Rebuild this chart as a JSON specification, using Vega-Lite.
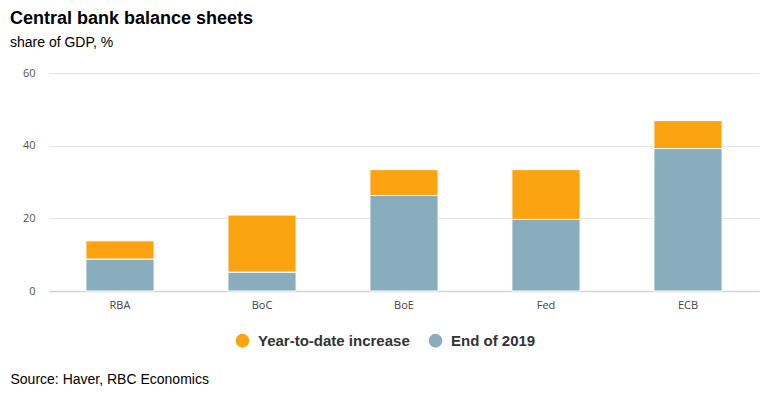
{
  "$schema": "https://vega.github.io/schema/vega-lite/v6.json",
  "autosize": {"type": "none"},
  "width": 710,
  "height": 218,
  "padding": {"left": 49, "top": 73, "right": 11, "bottom": 109},
  "background": "white",
  "title": {
    "text": "Central bank balance sheets",
    "subtitle": "share of GDP, %",
    "anchor": "start",
    "frame": "group",
    "dx": -39,
    "offset": 17,
    "font": "Liberation Sans",
    "fontSize": 18,
    "fontWeight": "bold",
    "color": "#000000",
    "subtitleFont": "Liberation Sans",
    "subtitleFontSize": 14,
    "subtitleColor": "#000000",
    "subtitlePadding": 8
  },
  "data": {
    "values": [
      {"bank": "RBA", "series": "End of 2019", "value": 8.8},
      {"bank": "RBA", "series": "Year-to-date increase", "value": 5.0},
      {"bank": "BoC", "series": "End of 2019", "value": 5.2},
      {"bank": "BoC", "series": "Year-to-date increase", "value": 15.7},
      {"bank": "BoE", "series": "End of 2019", "value": 26.3},
      {"bank": "BoE", "series": "Year-to-date increase", "value": 7.1},
      {"bank": "Fed", "series": "End of 2019", "value": 19.7},
      {"bank": "Fed", "series": "Year-to-date increase", "value": 13.7},
      {"bank": "ECB", "series": "End of 2019", "value": 39.2},
      {"bank": "ECB", "series": "Year-to-date increase", "value": 7.7}
    ]
  },
  "mark": {"type": "bar", "stroke": "white", "strokeWidth": 1},
  "encoding": {
    "x": {
      "field": "bank",
      "type": "nominal",
      "sort": ["RBA", "BoC", "BoE", "Fed", "ECB"],
      "scale": {"paddingInner": 0.52, "paddingOuter": 0.26},
      "axis": {
        "title": "Source: Haver, RBC Economics",
        "titleX": -39,
        "titleY": 92,
        "titleAlign": "left",
        "titleAnchor": null,
        "titleBaseline": "alphabetic",
        "titleFont": "Liberation Sans",
        "titleFontSize": 14,
        "titleFontWeight": "normal",
        "titleColor": "#000000",
        "labelAngle": 0,
        "labelFont": "Open Sans",
        "labelFontSize": 11,
        "labelColor": "#444444",
        "labelPadding": 8,
        "ticks": false,
        "domainColor": "#d3d3dc",
        "domainWidth": 1.5
      }
    },
    "y": {
      "field": "value",
      "type": "quantitative",
      "stack": "zero",
      "scale": {"domain": [0, 60]},
      "axis": {
        "title": null,
        "values": [0, 20, 40, 60],
        "labelFont": "Open Sans",
        "labelFontSize": 11,
        "labelColor": "#555555",
        "labelPadding": 14,
        "ticks": false,
        "domain": false,
        "gridColor": "#e3e3e3",
        "gridWidth": 1
      }
    },
    "color": {
      "field": "series",
      "type": "nominal",
      "scale": {
        "domain": ["Year-to-date increase", "End of 2019"],
        "range": ["#fca311", "#88aebe"]
      },
      "legend": {
        "title": null,
        "orient": "none",
        "direction": "horizontal",
        "legendX": 186,
        "legendY": 260,
        "symbolType": "circle",
        "symbolSize": 190,
        "symbolStrokeWidth": 0,
        "labelFont": "Liberation Sans",
        "labelFontSize": 15,
        "labelFontWeight": "bold",
        "labelColor": "#333333",
        "labelOffset": 8,
        "columnPadding": 18
      }
    },
    "order": {"field": "series", "sort": "ascending"}
  },
  "config": {"view": {"stroke": null}}
}
